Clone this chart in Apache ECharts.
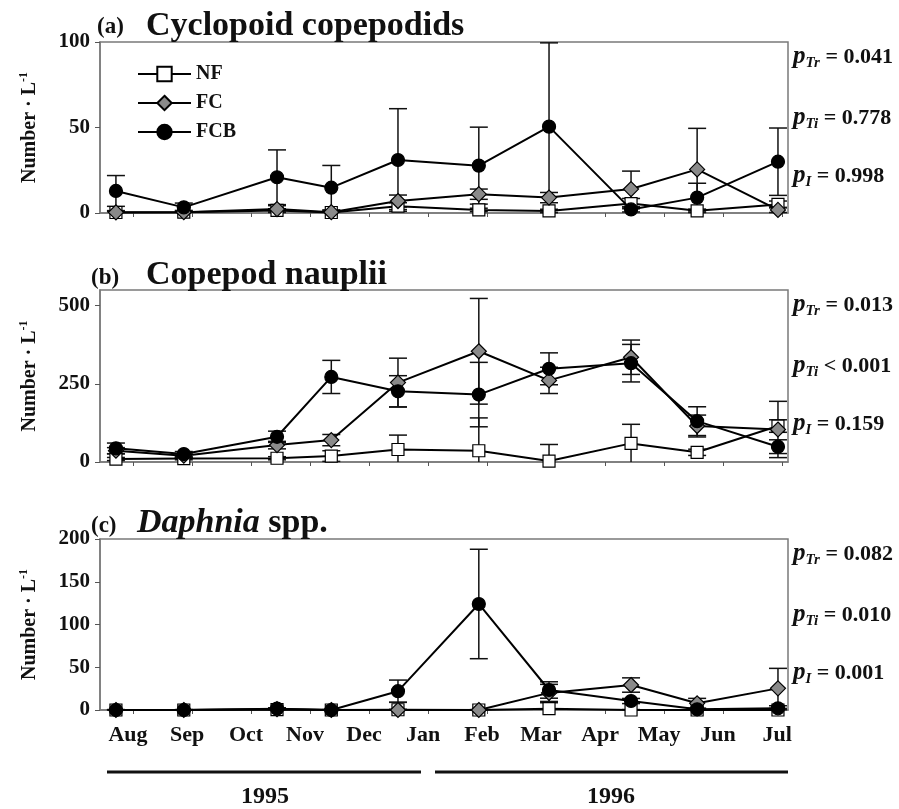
<!DOCTYPE html>
<html>
<head>
<meta charset="utf-8">
<title>Copepods and Daphnia</title>
<script src="https://cdn.jsdelivr.net/npm/echarts@6/dist/echarts.min.js"></script>
<style>
html, body { margin: 0; padding: 0; background: #fff; }
#chart { width: 899px; height: 809px; }
</style>
</head>
<body>
<div id="chart"></div>
<script>
// month axis: 0 = Aug 1995 ... 11 = Jul 1996
var months = ['Aug', 'Sep', 'Oct', 'Nov', 'Dec', 'Jan', 'Feb', 'Mar', 'Apr', 'May', 'Jun', 'Jul'];
var monthTicks = [0, 1, 2, 3, 4, 5, 6, 7, 8, 9, 10, 11];
var sampleMonths = [-0.29, 0.86, 2.44, 3.36, 4.49, 5.86, 7.05, 8.44, 9.56, 10.93];

// (a) Cyclopoid copepodids
var cycNF = [0.3, 0.5, 1.5, 0.3, 4, 1.8, 1.2, 5.5, 1.3, 5];
var cycNFErr = [0.5, 0.5, 1, 0.5, 2, 1, 1, 3, 1, 2];
var cycFC = [0.4, 0.5, 2.3, 0.5, 7, 11, 9, 14, 25.5, 1.8];
var cycFCErr = [1, 1, 2, 1, 3.5, 3, 3, 10.5, 24, 1.5];
var cycFCB = [12.9, 3.3, 20.9, 14.8, 31, 27.7, 50.5, 2.1, 9, 30];
var cycFCBErr = [9, 2.5, 16, 13, 30, 22.5, 49, 1.5, 8.4, 19.7];

// (b) Copepod nauplii
var naupNF = [9.5, 11, 12, 19, 40, 36, 3, 59.5, 31, 115];
var naupNFErr = [5, 4, 5, 17, 46, 105, 53, 61, 10, 20];
var naupFC = [36, 20, 54, 70, 254, 354, 261, 335, 115, 104];
var naupFCErr = [10, 6, 12, 18, 78, 169, 42, 55, 35, 90];
var naupFCB = [43.6, 25.5, 80.6, 272, 226, 215.6, 298, 316, 130.6, 49];
var naupFCBErr = [17, 8, 18, 53, 50, 103, 51, 60, 46, 22];

// (c) Daphnia spp.
var daphNF = [0, 0, 0.5, 0, 0.3, 0, 1.5, 0, 0, 0];
var daphNFErr = [0.3, 0.3, 0.5, 0.3, 0.5, 0.3, 7, 0.5, 0.3, 0.3];
var daphFC = [0, 0, 1, 0, 0, 0, 20, 29.2, 7.8, 25.3];
var daphFCErr = [0.3, 0.3, 1, 0.3, 9, 0.5, 10, 8.4, 5.8, 23.4];
var daphFCB = [0, 0, 1.6, 0, 22, 124, 23.4, 10.5, 0.8, 2];
var daphFCBErr = [0.5, 0.5, 1, 0.5, 13, 64, 9.6, 3, 1, 3];

var yMax = [100, 550, 200];
var yTicks = [[0, 50, 100], [0, 250, 500], [0, 50, 100, 150, 200]];
var pTr = ['0.041', '0.013', '0.082'];
var pTi = ['= 0.778', '< 0.001', '= 0.010'];
var pI = ['0.998', '0.159', '0.001'];

var panels = [
  { NF: [cycNF, cycNFErr], FC: [cycFC, cycFCErr], FCB: [cycFCB, cycFCBErr] },
  { NF: [naupNF, naupNFErr], FC: [naupFC, naupFCErr], FCB: [naupFCB, naupFCBErr] },
  { NF: [daphNF, daphNFErr], FC: [daphFC, daphFCErr], FCB: [daphFCB, daphFCBErr] }
];
var gridTops = [42, 290, 539];
var gridHeights = [171, 172, 171];

var serif = 'Liberation Serif';
var frame = '#7a7a7a';

var chart = echarts.init(document.getElementById('chart'));

function errRender(params, api) {
  var x = api.value(0), y = api.value(1), e = api.value(2);
  var lo = Math.max(0, y - e), hi = y + e;
  var pLo = api.coord([x, lo]), pHi = api.coord([x, hi]);
  var w = 9;
  var st = { stroke: '#111', lineWidth: 1.5 };
  var kids = [
    { type: 'line', shape: { x1: pLo[0], y1: pLo[1], x2: pHi[0], y2: pHi[1] }, style: st },
    { type: 'line', shape: { x1: pHi[0] - w, y1: pHi[1], x2: pHi[0] + w, y2: pHi[1] }, style: st }
  ];
  if (lo > 0) {
    kids.push({ type: 'line', shape: { x1: pLo[0] - w, y1: pLo[1], x2: pLo[0] + w, y2: pLo[1] }, style: st });
  }
  return { type: 'group', children: kids };
}

var looks = {
  NF: { symbol: 'rect', size: 12, color: '#fff' },
  FC: { symbol: 'diamond', size: 15, color: '#8a8a8a' },
  FCB: { symbol: 'circle', size: 13, color: '#000' }
};

var grids = [], xAxes = [], yAxes = [], series = [], graphics = [];

panels.forEach(function (pan, i) {
  grids.push({ left: 100, top: gridTops[i], width: 688, height: gridHeights[i],
    show: true, borderColor: frame, borderWidth: 1.5, backgroundColor: 'transparent' });

  xAxes.push({
    type: 'value', gridIndex: i, min: -0.56, max: 11.1,
    axisLine: { show: true, onZero: false, lineStyle: { color: frame, width: 1.5 } },
    axisTick: { show: true, customValues: monthTicks, length: 4, lineStyle: { color: '#555' } },
    splitLine: { show: false },
    axisLabel: {
      show: i === 2, customValues: monthTicks, margin: 14, padding: [0, 10, 0, 0],
      formatter: function (v) { return months[Math.round(v)]; },
      fontFamily: serif, fontWeight: 'bold', fontSize: 22, color: '#111'
    }
  });

  yAxes.push({
    type: 'value', gridIndex: i, min: 0, max: yMax[i],
    axisLine: { show: true, onZero: false, lineStyle: { color: frame, width: 1.5 } },
    axisTick: { show: true, customValues: yTicks[i], length: 5, lineStyle: { color: '#555' } },
    splitLine: { show: false },
    axisLabel: { customValues: yTicks[i], margin: 10, fontFamily: serif, fontWeight: 'bold', fontSize: 21, color: '#111' },
    name: '{a|Number · L}{b|-1}', nameLocation: 'middle', nameRotate: 90, nameGap: 58,
    nameTextStyle: {
      rich: {
        a: { fontFamily: serif, fontWeight: 'bold', fontSize: 20, color: '#111' },
        b: { fontFamily: serif, fontWeight: 'bold', fontSize: 12, color: '#111', padding: [0, 0, 12, 0] }
      }
    }
  });

  ['NF', 'FC', 'FCB'].forEach(function (k) {
    var vals = pan[k][0], errs = pan[k][1];
    series.push({
      type: 'custom', xAxisIndex: i, yAxisIndex: i, z: 1, silent: true,
      renderItem: errRender,
      data: sampleMonths.map(function (m, j) { return [m, vals[j], errs[j]]; })
    });
  });
  ['NF', 'FC', 'FCB'].forEach(function (k, n) {
    var vals = pan[k][0];
    series.push({
      name: k, type: 'line', xAxisIndex: i, yAxisIndex: i, z: 3 + n,
      symbol: looks[k].symbol, symbolSize: looks[k].size,
      itemStyle: { color: looks[k].color, borderColor: '#000', borderWidth: 1.2 },
      lineStyle: { color: '#000', width: 2 },
      data: sampleMonths.map(function (m, j) { return [m, vals[j]]; })
    });
  });

  // p values on the right
  var pRich = {
    p: { fontFamily: serif, fontStyle: 'italic', fontWeight: 'bold', fontSize: 25, fill: '#111' },
    s: { fontFamily: serif, fontStyle: 'italic', fontWeight: 'bold', fontSize: 15, fill: '#111', padding: [12, 0, 0, 0] },
    v: { fontFamily: serif, fontWeight: 'bold', fontSize: 22, fill: '#111' }
  };
  var offs = [15, 76, 134];
  var texts = ['{p|p}{s|Tr}{v| = ' + pTr[i] + '}', '{p|p}{s|Ti}{v| ' + pTi[i] + '}', '{p|p}{s|I}{v| = ' + pI[i] + '}'];
  texts.forEach(function (t, n) {
    graphics.push({ type: 'text', x: 793, y: gridTops[i] + offs[n],
      style: { text: t, rich: pRich, verticalAlign: 'middle', align: 'left' } });
  });
});

// panel titles
var titleTag = { fontFamily: serif, fontWeight: 'bold', fontSize: 23, fill: '#111' };
var titleMain = { fontFamily: serif, fontWeight: 'bold', fontSize: 34, fill: '#111' };
graphics.push(
  { type: 'text', x: 97, y: 27, style: Object.assign({ text: '(a)', verticalAlign: 'middle' }, titleTag) },
  { type: 'text', x: 146, y: 26, style: Object.assign({ text: 'Cyclopoid copepodids', verticalAlign: 'middle' }, titleMain) },
  { type: 'text', x: 91, y: 278, style: Object.assign({ text: '(b)', verticalAlign: 'middle' }, titleTag) },
  { type: 'text', x: 146, y: 275, style: Object.assign({ text: 'Copepod nauplii', verticalAlign: 'middle' }, titleMain) },
  { type: 'text', x: 91, y: 526, style: Object.assign({ text: '(c)', verticalAlign: 'middle' }, titleTag) },
  { type: 'text', x: 137, y: 523, style: {
      text: '{i|Daphnia}{n| spp.}', verticalAlign: 'middle',
      rich: {
        i: { fontFamily: serif, fontStyle: 'italic', fontWeight: 'bold', fontSize: 34, fill: '#111' },
        n: { fontFamily: serif, fontWeight: 'bold', fontSize: 34, fill: '#111' }
      } } }
);

// year bars
graphics.push(
  { type: 'line', shape: { x1: 107, y1: 772, x2: 421, y2: 772 }, style: { stroke: '#111', lineWidth: 3 } },
  { type: 'line', shape: { x1: 435, y1: 772, x2: 788, y2: 772 }, style: { stroke: '#111', lineWidth: 3 } },
  { type: 'text', x: 265, y: 797, style: { text: '1995', align: 'center', verticalAlign: 'middle', fontFamily: serif, fontWeight: 'bold', fontSize: 24, fill: '#111' } },
  { type: 'text', x: 611, y: 797, style: { text: '1996', align: 'center', verticalAlign: 'middle', fontFamily: serif, fontWeight: 'bold', fontSize: 24, fill: '#111' } }
);

chart.setOption({
  animation: false,
  backgroundColor: '#fff',
  legend: {
    data: ['NF', 'FC', 'FCB'], orient: 'vertical', left: 132, top: 59,
    itemWidth: 53, itemHeight: 18, itemGap: 9, selectedMode: false,
    textStyle: { fontFamily: serif, fontWeight: 'bold', fontSize: 20, color: '#111' }
  },
  grid: grids,
  xAxis: xAxes,
  yAxis: yAxes,
  series: series,
  graphic: graphics
});
</script>
</body>
</html>
